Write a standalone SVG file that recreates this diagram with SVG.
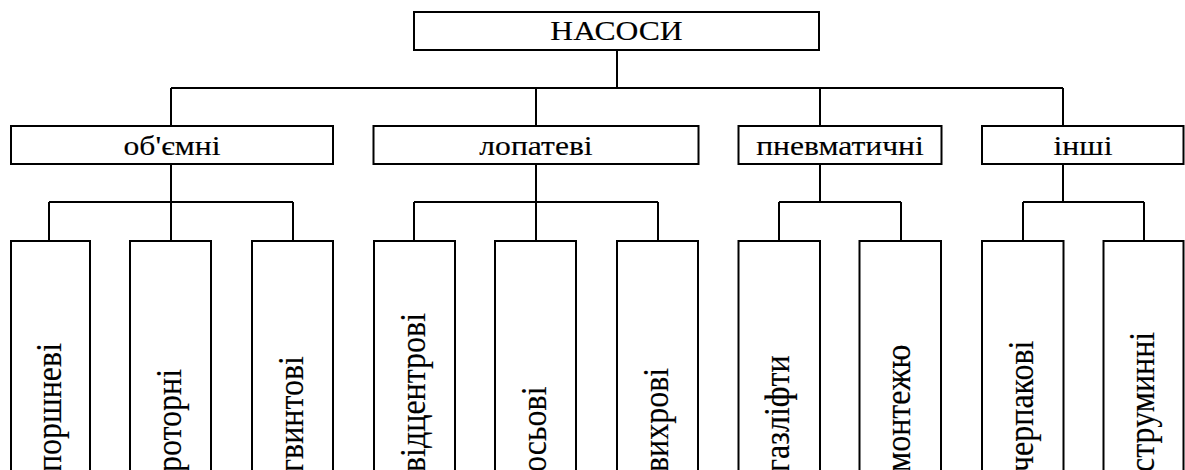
<svg xmlns="http://www.w3.org/2000/svg" width="1185" height="470" viewBox="0 0 1185 470">
  <style>
    .box { fill: #ffffff; stroke: #000000; stroke-width: 2; }
    .link { fill: none; stroke: #000000; stroke-width: 2; }
    .h, .v { font-family: 'Liberation Serif', 'Times New Roman', Times, serif; fill: #000000; stroke: #000000; stroke-width: 0.15; }
    .h { font-size: 28px; text-anchor: middle; }
    .v { font-size: 32px; text-anchor: start; }
  </style>
  <rect width="1185" height="470" fill="#ffffff"/>

  <!-- tree connectors -->
  <g id="connectors" class="link">
    <path d="M617 50 V88 M171 88 H1063 M171 88 V126 M536 88 V126 M820 88 V126 M1063 88 V126"/>
    <path d="M171 164 V202 M49 202 H293 M49 202 V241 M171 202 V241 M293 202 V241"/>
    <path d="M536 164 V202 M414 202 H658 M414 202 V241 M536 202 V241 M658 202 V241"/>
    <path d="M820 164 V202 M779 202 H901 M779 202 V241 M901 202 V241"/>
    <path d="M1063 164 V202 M1023 202 H1144 M1023 202 V241 M1144 202 V241"/>
  </g>

  <!-- root -->
  <g id="root">
    <rect class="box" x="414" y="12" width="405" height="38"/>
    <text class="h" transform="translate(616.5,40) scale(1.13,1)">НАСОСИ</text>
  </g>

  <!-- categories -->
  <g id="cat-volumetric">
    <rect class="box" x="11" y="126" width="322" height="38"/>
    <text class="h" transform="translate(172,155) scale(1.13,1)">об'ємні</text>
  </g>
  <g id="cat-vane">
    <rect class="box" x="373.5" y="126" width="325" height="38"/>
    <text class="h" transform="translate(536,155) scale(1.13,1)">лопатеві</text>
  </g>
  <g id="cat-pneumatic">
    <rect class="box" x="738.5" y="126" width="203" height="38"/>
    <text class="h" transform="translate(840,155) scale(1.13,1)">пневматичні</text>
  </g>
  <g id="cat-other">
    <rect class="box" x="982" y="126" width="201.5" height="38"/>
    <text class="h" transform="translate(1083,155) scale(1.13,1)">інші</text>
  </g>

  <!-- pump types (boxes run past the lower edge) -->
  <g id="leaf-piston">
    <rect class="box" x="11" y="241" width="79" height="250"/>
    <text class="v" transform="translate(60.5,472) rotate(-90) scale(1,1.13)">поршневі</text>
  </g>
  <g id="leaf-rotary">
    <rect class="box" x="130" y="241" width="81" height="250"/>
    <text class="v" transform="translate(180.5,472) rotate(-90) scale(1,1.13)">роторні</text>
  </g>
  <g id="leaf-screw">
    <rect class="box" x="252" y="241" width="81" height="250"/>
    <text class="v" transform="translate(302.5,472) rotate(-90) scale(1,1.13)">гвинтові</text>
  </g>
  <g id="leaf-centrifugal">
    <rect class="box" x="374" y="241" width="81" height="250"/>
    <text class="v" transform="translate(424.5,472) rotate(-90) scale(1,1.13)">відцентрові</text>
  </g>
  <g id="leaf-axial">
    <rect class="box" x="495" y="241" width="81" height="250"/>
    <text class="v" transform="translate(545.5,472) rotate(-90) scale(1,1.13)">осьові</text>
  </g>
  <g id="leaf-vortex">
    <rect class="box" x="617" y="241" width="81" height="250"/>
    <text class="v" transform="translate(667.5,472) rotate(-90) scale(1,1.13)">вихрові</text>
  </g>
  <g id="leaf-gaslift">
    <rect class="box" x="738.5" y="241" width="81.5" height="250"/>
    <text class="v" transform="translate(789,472) rotate(-90) scale(1,1.13)">газліфти</text>
  </g>
  <g id="leaf-montejus">
    <rect class="box" x="859.5" y="241" width="81.5" height="250"/>
    <text class="v" transform="translate(910,472) rotate(-90) scale(1,1.13)">монтежю</text>
  </g>
  <g id="leaf-bucket">
    <rect class="box" x="982" y="241" width="81.5" height="250"/>
    <text class="v" transform="translate(1032.5,472) rotate(-90) scale(1,1.13)">черпакові</text>
  </g>
  <g id="leaf-jet">
    <rect class="box" x="1103.5" y="241" width="80" height="250"/>
    <text class="v" transform="translate(1153.5,472) rotate(-90) scale(1,1.13)">струминні</text>
  </g>
</svg>
